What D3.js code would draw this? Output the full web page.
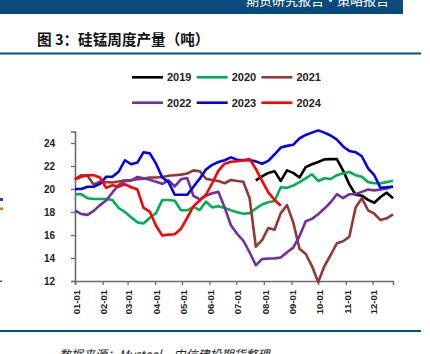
<!DOCTYPE html>
<html>
<head>
<meta charset="utf-8">
<script src="https://cdn.jsdelivr.net/npm/d3@7"></script>
<style>
	body { margin: 0; background: #fff; }
	svg { display: block; }
	.tick text, .legend text { font-family: "Liberation Sans", Arial, sans-serif; font-weight: bold; fill: #222; }
</style>
</head>
<body>
<div id="wrapper"></div>
<script>
	// weekly output, one value per week from Jan 1
	const years = ['2019', '2020', '2021', '2022', '2023', '2024'];
	const colors = ['#000000', '#00b050', '#953735', '#7030a0', '#0000f0', '#ff0000'];
	const firstWeek = [29, 0, 0, 0, 0, 0];

	const v2019 = [20.75, 21.1, 21.4, 21.55, 20.7, 21.62, 21.4, 21.0, 21.9, 22.15, 22.35, 22.58, 22.6, 22.6,
		21.6, 20.4, 19.5, 19.42, 19.05, 18.8, 19.3, 19.68, 19.2];
	const v2020 = [19.55, 19.55, 19.2, 19.13, 19.13, 19.13, 19.05, 18.35, 18.0, 17.55, 17.1, 17.0, 17.5, 17.9,
		19.05, 19.05, 18.98, 18.15, 18.15, 18.45, 18.17, 18.9, 18.4, 18.5, 18.35, 18.15, 17.97, 17.85, 17.9,
		18.3, 18.65, 18.85, 18.95, 20.15, 20.1, 20.3, 20.6, 20.93, 21.28, 20.7, 20.93, 20.87, 21.2, 21.37,
		21.48, 21.2, 21.07, 20.6, 20.5, 20.5, 20.6, 20.72];
	const v2021 = [20.85, 21.2, 21.15, 20.4, 20.63, 20.6, 20.57, 20.65, 20.75, 20.78, 20.85, 20.9, 21.0, 21.0,
		21.05, 21.15, 21.2, 21.25, 21.35, 21.62, 21.55, 20.9, 20.78, 20.7, 20.5, 20.78, 20.7, 20.63, 19.2,
		14.98, 15.56, 16.6, 16.45, 17.9, 18.6, 17.1, 14.8, 14.35, 13.3, 11.9, 13.3, 14.26, 15.28, 15.45,
		15.85, 18.4, 19.2, 18.15, 17.85, 17.3, 17.45, 17.8];
	const v2022 = [18.15, 17.82, 17.75, 18.1, 18.6, 19.0, 19.7, 20.35, 20.7, 20.72, 21.05, 20.93, 20.8, 20.63,
		20.45, 20.75, 20.22, 20.84, 20.95, 19.4, 19.1, 19.4, 19.63, 19.75, 18.4, 16.85, 16.1, 15.5, 14.5,
		13.37, 13.9, 13.95, 13.97, 14.05, 14.5, 14.9, 15.9, 17.2, 17.4, 17.8, 18.3, 18.85, 19.55, 19.2,
		19.55, 19.55, 19.75, 19.95, 19.88, 19.95, 20.05, 20.25];
	const v2023 = [20.0, 20.0, 20.2, 20.2, 20.45, 21.07, 21.07, 21.5, 22.5, 22.15, 22.3, 23.2, 23.1, 22.2,
		21.0, 20.6, 19.5, 19.5, 19.5, 20.2, 20.9, 21.7, 22.1, 22.35, 22.5, 22.75, 22.55, 22.5, 22.5, 22.4,
		22.2, 22.45, 23.0, 23.6, 23.75, 23.85, 24.4, 24.7, 24.9, 25.1, 24.9, 24.65, 24.3, 23.7, 23.3, 23.2,
		22.85, 21.8, 21.2, 20.1, 20.15, 20.2];
	const v2024 = [20.85, 21.07, 21.2, 21.2, 21.0, 20.1, 20.33, 20.2, 20.43, 20.15, 19.97, 18.35, 18.03, 16.8,
		15.95, 16.03, 16.06, 16.55, 17.5, 18.5, 19.0, 19.5, 20.5, 21.6, 22.2, 22.37, 22.42, 22.5, 22.6,
		21.75, 20.7, 19.7, 19.05, 18.55];
	const values = [v2019, v2020, v2021, v2022, v2023, v2024];

	const yTicks = [12, 14, 16, 18, 20, 22, 24];
	const monthTicks = ['01-01', '02-01', '03-01', '04-01', '05-01', '06-01', '07-01', '08-01', '09-01', '10-01', '11-01', '12-01'];

	const width = 430, height = 354;
	const base = new Date(2019, 0, 1);
	const parse = d3.timeParse('%Y-%m-%d');

	const svg = d3.select('#wrapper').append('svg')
		.attr('width', width)
		.attr('height', height);

	// report header band
	svg.append('rect')
		.attr('x', 0).attr('y', 0)
		.attr('width', 403).attr('height', 14)
		.attr('fill', '#0b4a7d');
	svg.append('text')
		.attr('x', 389).attr('y', 5)
		.attr('text-anchor', 'end')
		.style('font-family', '"Noto Sans CJK SC", sans-serif')
		.style('font-size', '13px')
		.style('fill', '#fff')
		.text('期货研究报告•策略报告');

	svg.append('text')
		.attr('x', 37).attr('y', 45)
		.style('font-family', '"Noto Sans CJK SC", sans-serif')
		.style('font-weight', 'bold')
		.style('font-size', '14.6px')
		.style('fill', '#111')
		.text('图 3：硅锰周度产量（吨）');

	svg.append('rect').attr('x', 0).attr('y', 52.5).attr('width', 421).attr('height', 2).attr('fill', '#0b4f80');
	svg.append('rect').attr('x', 0).attr('y', 330).attr('width', 421).attr('height', 2).attr('fill', '#0b4f80');

	// fragments of the neighbouring chart at the left edge
	svg.append('rect').attr('x', 0).attr('y', 198).attr('width', 3).attr('height', 3).attr('fill', '#1f3fbf');
	svg.append('rect').attr('x', 0).attr('y', 207.5).attr('width', 3).attr('height', 2.5).attr('fill', '#e07020');
	svg.append('rect').attr('x', 0).attr('y', 280.5).attr('width', 2).attr('height', 1.5).attr('fill', '#555');

	svg.append('text')
		.attr('x', 59).attr('y', 359)
		.style('font-family', '"Noto Sans CJK SC", sans-serif')
		.style('font-size', '12px')
		.style('font-style', 'italic')
		.style('fill', '#222')
		.text('数据来源：Mysteel，中信建投期货整理');

	const x = d3.scaleTime()
		.domain([base, new Date(2019, 11, 24)])
		.range([75, 393]);
	const y = d3.scaleLinear()
		.domain([12, 25])
		.range([281, 131.5]);

	const yAxis = svg.append('g')
		.attr('transform', 'translate(75,0)')
		.call(d3.axisLeft(y).tickValues(yTicks).tickSize(4).tickPadding(16));
	const xAxis = svg.append('g')
		.attr('transform', 'translate(0,281)')
		.call(d3.axisBottom(x)
			.tickValues(monthTicks.map((m) => parse('2019-' + m)))
			.tickFormat(d3.timeFormat('%m-%d'))
			.tickSize(4));

	[xAxis, yAxis].forEach((g) => {
		g.select('.domain').attr('stroke', '#6b6b6b').attr('stroke-width', 1.6);
		g.selectAll('.tick line').attr('stroke', '#6b6b6b').attr('stroke-width', 1.3);
	});
	yAxis.selectAll('.tick text').style('font-size', '10px');
	xAxis.selectAll('.tick text')
		.style('font-size', '9.5px')
		.attr('text-anchor', 'end')
		.attr('transform', 'rotate(-90)')
		.attr('x', -9)
		.attr('y', 1)
		.attr('dy', '0.35em');

	const line = d3.line()
		.x((d) => x(d.date))
		.y((d) => y(d.value));

	years.forEach((yr, k) => {
		const pts = values[k].map((v, i) => ({
			date: d3.timeDay.offset(base, 7 * (firstWeek[k] + i)),
			value: v
		}));
		svg.append('path')
			.datum(pts)
			.attr('d', line)
			.attr('fill', 'none')
			.attr('stroke', colors[k])
			.attr('stroke-width', 2.6)
			.attr('stroke-linejoin', 'round');
	});

	// legend, two rows of three
	const legend = svg.append('g').attr('class', 'legend');
	years.forEach((yr, k) => {
		const lx = 132 + (k % 3) * 64.7;
		const ly = k < 3 ? 77.3 : 102.7;
		legend.append('line')
			.attr('x1', lx).attr('x2', lx + 31)
			.attr('y1', ly).attr('y2', ly)
			.attr('stroke', colors[k])
			.attr('stroke-width', 2.6);
		legend.append('text')
			.attr('x', lx + 35).attr('y', ly)
			.attr('dy', '0.36em')
			.style('font-size', '11px')
			.text(yr);
	});
</script>
</body>
</html>
